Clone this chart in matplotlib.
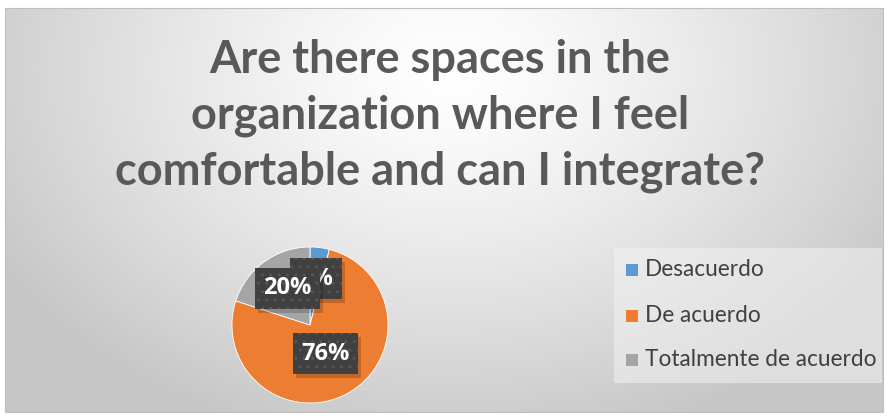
import numpy as np
import matplotlib
matplotlib.use("Agg")
import matplotlib.pyplot as plt
from matplotlib.patches import Rectangle

title = "Are there spaces in the\norganization where I feel\ncomfortable and can I integrate?"
labels = ["Desacuerdo", "De acuerdo", "Totalmente de acuerdo"]
values = [4, 76, 20]
colors = ["#5b9bd5", "#ed7d31", "#a5a5a5"]
label_radius = [0.6, 0.42, 0.58]

W, H = 888, 418
fig = plt.figure(figsize=(W / 100, H / 100), dpi=100)
fig.patch.set_facecolor("white")

# background with radial gradient
bg = fig.add_axes([0, 0, 1, 1])
bg.set_xlim(0, W)
bg.set_ylim(H, 0)
bg.axis("off")
yy, xx = np.mgrid[0:H, 0:W]
d = np.sqrt(((xx - 450) / 520.0) ** 2 + ((yy - 70) / 380.0) ** 2)
shade = np.clip(1.0 - 0.22 * d ** 1.3, 0.78, 1.0)
x0, y0, x1, y1 = 5, 8, 883, 412
img = np.dstack([shade] * 3)[y0:y1, x0:x1]
bg.imshow(img, extent=(x0, x1, y1, y0), aspect="auto", interpolation="bilinear")
bg.add_patch(Rectangle((x0, y0), x1 - x0, y1 - y0, fill=False, ec="#bfbfbf", lw=0.8))

fig.text(440 / W, 1 - 116 / H, title, ha="center", va="center",
         fontsize=32.5, fontweight="bold", color="#595959", family="Lato",
         linespacing=1.4)

# pie
cx, cy, r = 310, 325, 78
ax = fig.add_axes([(cx - r) / W, (H - cy - r) / H, 2 * r / W, 2 * r / H])
wedges, _ = ax.pie(values, colors=colors, startangle=90, counterclock=False,
                   radius=1.0, wedgeprops=dict(linewidth=0.6, edgecolor="white"))
ax.set_xlim(-1, 1)
ax.set_ylim(-1, 1)
ax.set_aspect("auto")

order = [0, 2, 1]
for i in order:
    w = wedges[i]
    ang = np.deg2rad((w.theta1 + w.theta2) / 2)
    lx, ly = label_radius[i] * np.cos(ang), label_radius[i] * np.sin(ang)
    if i == 2:
        lx += 0.05
    txt = f"{values[i]}%"
    ax.text(lx + 0.04, ly - 0.05, txt, ha="center", va="center", fontsize=17,
            fontweight="bold", color="none", family="Open Sans",
            bbox=dict(boxstyle="square,pad=0.35", fc="black", ec="none", alpha=0.18))
    ax.text(lx, ly, txt, ha="center", va="center", fontsize=17,
            fontweight="bold", color="white", family="Open Sans",
            bbox=dict(boxstyle="square,pad=0.35", fc="#404040", ec="#555555",
                      lw=0, hatch=".."))

# legend
bg.add_patch(Rectangle((614, 248), 268, 135, fc="#f2f2f2", ec="none", alpha=0.55))
leg_y = [270, 316, 360]
for lab, col, y in zip(labels, colors, leg_y):
    bg.add_patch(Rectangle((626, y - 6), 12, 12, fc=col, ec="none"))
    bg.text(645, y, lab, ha="left", va="center", fontsize=16.3, color="#404040",
            family="Lato")

fig.savefig("out.png", dpi=100)
